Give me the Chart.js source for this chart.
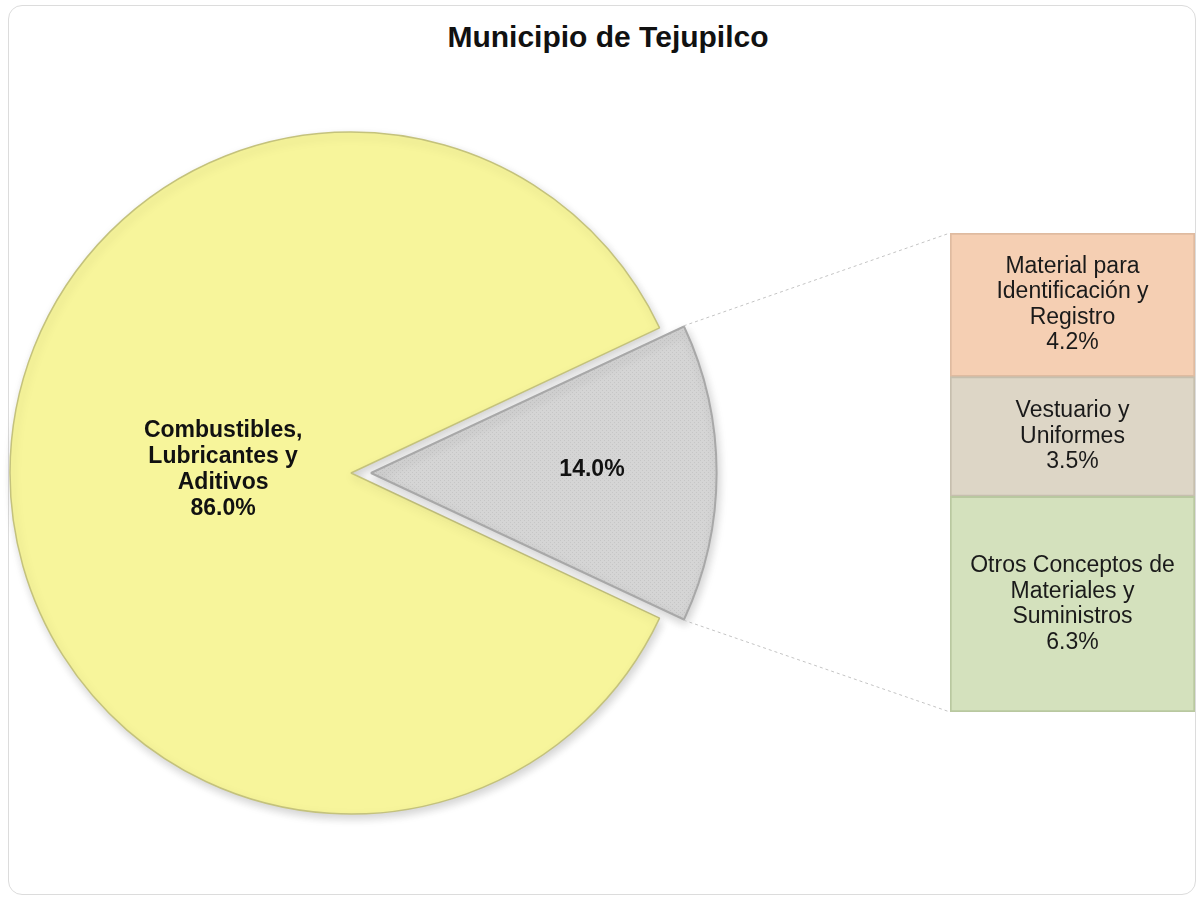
<!DOCTYPE html>
<html>
<head>
<meta charset="utf-8">
<script src="https://cdn.jsdelivr.net/npm/chart.js@4.4.1/dist/chart.umd.min.js"></script>
<style>
  body { margin: 0; background: #fff; font-family: "Liberation Sans", Arial, sans-serif; }
  #wrap { position: relative; width: 1203px; height: 901px; overflow: hidden; }
  #card { position: absolute; left: 8px; top: 5px; width: 1186px; height: 888px; border: 1px solid #dcdcdc; border-radius: 14px; }
  #title { position: absolute; left: 0; top: 20px; width: 1216px; text-align: center; font-weight: bold; font-size: 30px; color: #111; }
  canvas { position: absolute; left: 0; top: 0; }
</style>
</head>
<body>
<div id="wrap">
  <div id="card"></div>
  <div id="title">Municipio de Tejupilco</div>
  <canvas id="pieChart" width="1203" height="901"></canvas>
  <canvas id="barChart" width="1203" height="901"></canvas>
</div>
<script>
// Pie: main split
const pieLabels = [['Combustibles,', 'Lubricantes y', 'Aditivos'], ['Otros']];
const pieValues = [86.0, 14.0];
const pieColors = ['#f7f59b', '#d5d5d5'];

// Bar: breakdown of the small slice (bottom to top)
const breakdownLabels = [
  ['Otros Conceptos de', 'Materiales y', 'Suministros'],
  ['Vestuario y', 'Uniformes'],
  ['Material para', 'Identificación y', 'Registro']
];
const breakdownValues = [6.3, 3.5, 4.2];
const breakdownColors = ['#d4e1bd', '#ddd6c6', '#f5cfb3'];
const breakdownBorders = ['#b9c8a0', '#c6bfae', '#dfbba0'];

const pct = v => v.toFixed(1) + '%';

// dotted texture for the grey slice
function makeDots(base) {
  const c = document.createElement('canvas');
  c.width = 4; c.height = 4;
  const g = c.getContext('2d');
  g.fillStyle = base;
  g.fillRect(0, 0, 4, 4);
  g.fillStyle = '#c6c6c6';
  g.fillRect(0, 0, 1, 1);
  g.fillRect(2, 2, 1, 1);
  return g.createPattern(c, 'repeat');
}

// soft shadow under the pie
const shadowPlugin = {
  id: 'shadow',
  beforeDatasetsDraw(chart) {
    const ctx = chart.ctx;
    ctx.save();
    ctx.shadowColor = 'rgba(0,0,0,0.18)';
    ctx.shadowBlur = 10;
    ctx.shadowOffsetX = 2;
    ctx.shadowOffsetY = 4;
  },
  afterDatasetsDraw(chart) {
    chart.ctx.restore();
  }
};

// text inside the slices
const pieLabelPlugin = {
  id: 'pieLabels',
  afterDatasetsDraw(chart) {
    const ctx = chart.ctx;
    const labelRadius = [0.375, 0.648];
    const showName = [true, false];
    chart.getDatasetMeta(0).data.forEach((arc, i) => {
      const p = arc.getProps(['x', 'y', 'startAngle', 'endAngle', 'outerRadius']);
      const mid = (p.startAngle + p.endAngle) / 2;
      const shift = (arc.options.offset || 0) / 4;
      const r = p.outerRadius * labelRadius[i] + shift;
      const cx = p.x + Math.cos(mid) * r;
      const cy = p.y + Math.sin(mid) * r - 3;
      const lines = (showName[i] ? pieLabels[i] : []).concat([pct(pieValues[i])]);
      const lh = 26;
      ctx.save();
      ctx.font = 'bold 23px "Liberation Sans", Arial, sans-serif';
      ctx.fillStyle = '#111';
      ctx.textAlign = 'center';
      ctx.textBaseline = 'middle';
      lines.forEach((t, k) => {
        ctx.fillText(t, cx, cy + (k - (lines.length - 1) / 2) * lh);
      });
      ctx.restore();
    });
  }
};

const pieChart = new Chart(document.getElementById('pieChart'), {
  type: 'pie',
  data: {
    labels: pieLabels,
    datasets: [{
      data: pieValues,
      backgroundColor: [pieColors[0], makeDots(pieColors[1])],
      borderColor: ['#c4c27c', '#a8a8a8'],
      borderWidth: [1.5, 2],
      offset: [0, 80]
    }]
  },
  options: {
    responsive: false,
    animation: false,
    rotation: 90 + pieValues[1] / 100 * 180, // small slice centred at 3 o'clock
    radius: 341,
    layout: { padding: { left: 0, right: 501, top: 45, bottom: 0 } },
    plugins: { legend: { display: false }, tooltip: { enabled: false } }
  },
  plugins: [shadowPlugin, pieLabelPlugin]
});

// dashed lines from the small slice to the bar
const connectorPlugin = {
  id: 'connectors',
  beforeDatasetsDraw(chart) {
    const ctx = chart.ctx;
    const arc = pieChart.getDatasetMeta(0).data[1];
    const p = arc.getProps(['x', 'y', 'startAngle', 'endAngle', 'outerRadius', 'circumference']);
    const off = (arc.options.offset || 0) / 4;
    const mid = (p.startAngle + p.endAngle) / 2;
    const fix = 1 - Math.sin(Math.min(Math.PI, p.circumference));
    const R = p.outerRadius + off * fix;
    const ox = p.x + Math.cos(mid) * off;
    const oy = p.y + Math.sin(mid) * off;
    const top = chart.getDatasetMeta(chart.data.datasets.length - 1).data[0];
    const bottom = chart.getDatasetMeta(0).data[0];
    const left = top.x - top.width / 2;
    ctx.save();
    ctx.strokeStyle = '#c4c4c4';
    ctx.lineWidth = 1;
    ctx.setLineDash([3, 3]);
    ctx.beginPath();
    ctx.moveTo(ox + Math.cos(p.startAngle) * R, oy + Math.sin(p.startAngle) * R);
    ctx.lineTo(left, top.y);
    ctx.moveTo(ox + Math.cos(p.endAngle) * R, oy + Math.sin(p.endAngle) * R);
    ctx.lineTo(left, bottom.base);
    ctx.stroke();
    ctx.restore();
  }
};

// text inside the bar segments
const barLabelPlugin = {
  id: 'barLabels',
  afterDatasetsDraw(chart) {
    const ctx = chart.ctx;
    chart.data.datasets.forEach((ds, i) => {
      const bar = chart.getDatasetMeta(i).data[0];
      const cy = (bar.y + bar.base) / 2;
      const lines = breakdownLabels[i].concat([pct(breakdownValues[i])]);
      const lh = 25.5;
      ctx.save();
      ctx.font = '23px "Liberation Sans", Arial, sans-serif';
      ctx.fillStyle = '#1a1a1a';
      ctx.textAlign = 'center';
      ctx.textBaseline = 'middle';
      lines.forEach((t, k) => {
        ctx.fillText(t, bar.x, cy + (k - (lines.length - 1) / 2) * lh);
      });
      ctx.restore();
    });
  }
};

const total = breakdownValues.reduce((a, b) => a + b, 0);

const barChart = new Chart(document.getElementById('barChart'), {
  type: 'bar',
  data: {
    labels: ['Otros'],
    datasets: breakdownValues.map((v, i) => ({
      label: breakdownLabels[i].join(' '),
      data: [v],
      backgroundColor: breakdownColors[i],
      borderColor: breakdownBorders[i],
      borderWidth: 2,
      borderSkipped: false,
      categoryPercentage: 1,
      barPercentage: 1
    }))
  },
  options: {
    responsive: false,
    animation: false,
    layout: { padding: { left: 950, right: 8, top: 233, bottom: 189 } },
    scales: {
      x: { stacked: true, display: false },
      y: { stacked: true, display: false, min: 0, max: total }
    },
    plugins: { legend: { display: false }, tooltip: { enabled: false } }
  },
  plugins: [connectorPlugin, barLabelPlugin]
});
</script>
</body>
</html>
